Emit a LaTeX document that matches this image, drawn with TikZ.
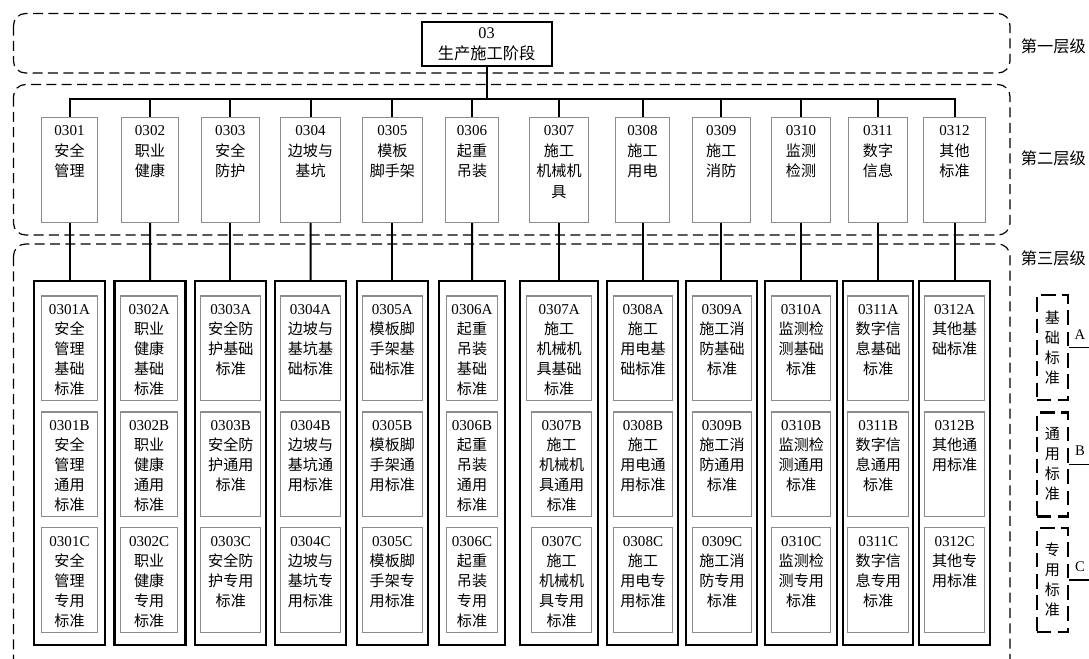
\documentclass[tikz,border=0pt]{standalone}
\usepackage{fontspec}
\setmainfont{Liberation Serif}
\newfontfamily\cjk{Noto Sans CJK SC}
\newfontfamily\latf{Liberation Serif}
\newcommand\lat[1]{{\latf #1}}
\usetikzlibrary{fit}
\newcommand\colgeom[8]{%
  \node[gbox, fit={({#2-#4/2},117.5) ({#2+#4/2},222.5)}] (l2-#1) {};
  \draw[conn] (l2-#1.north) |- (bus);
  \node[colbox, fit={({#2-#3/2},281) ({#2+#3/2},645)}] (c-#1) {};
  \draw[conn] (l2-#1.south) -- (c-#1.north);
  \node[gbox, fit={({#5-#6/2},296) ({#5+#6/2},400.7)}] (a-#1) {};
  \node[gbox, fit={({#7-#8/2},412) ({#7+#8/2},516.7)}] (b-#1) {};
  \node[gbox, fit={({#7-#8/2},527.7) ({#7+#8/2},632.3)}] (cc-#1) {};
}
\newcommand\coltext[5]{%
  \node[txttwo, anchor=north] (l2t-#1) at ([yshift=-6.4pt]l2-#1.north) {#2};
  \node[txt, anchor=north] (at-#1) at ([yshift=-6.7pt]a-#1.north) {#3};
  \node[txt, anchor=north] (bt-#1) at ([yshift=-6.7pt]b-#1.north) {#4};
  \node[txt, anchor=north] (ct-#1) at ([yshift=-6.7pt]cc-#1.north) {#5};
}
\begin{document}
\begin{tikzpicture}[x=0.75pt,y=-0.75pt,
  region/.style={draw=black, line width=0.9pt, dash pattern=on 7.5pt off 4pt, rounded corners=9pt},
  conn/.style={draw=black, line width=1.5pt},
  topbox/.style={draw=black, line width=1.6pt, inner sep=0pt},
  gbox/.style={draw=black!45, line width=0.8pt, inner sep=0pt},
  colbox/.style={draw=black, line width=1.6pt, inner sep=0pt},
  txt/.style={align=center, inner sep=0pt, font=\cjk\fontsize{11.3pt}{15pt}\selectfont},
  txttwo/.style={align=center, inner sep=0pt, font=\cjk\fontsize{11.3pt}{15.4pt}\selectfont},
  lvl/.style={anchor=west, inner sep=0pt, font=\cjk\fontsize{12.2pt}{14pt}\selectfont},
  legbox/.style={draw=black, line width=1.6pt, dash pattern=on 11pt off 5pt, inner sep=0pt},
  legtxt/.style={align=center, inner sep=0pt, font=\cjk\fontsize{11.3pt}{15pt}\selectfont},
  legline/.style={draw=black, line width=1.2pt},
  leglab/.style={inner sep=0pt, font=\fontsize{11pt}{13pt}\selectfont},
]
\useasboundingbox (0,0) rectangle (1089,658);

% regions
\draw[region] (13.5,13.5) rectangle (1010,73);
\draw[region] (13.5,84.5) rectangle (1010,235);
\begin{scope}
  \clip (0,0) rectangle (1089,658);
  \draw[region] (13.5,244) rectangle (1010,680);
\end{scope}

% level labels
\node[lvl] (L1) at (1020.5,46) {第一层级};
\node[lvl] (L2) at (1020.5,158) {第二层级};
\node[lvl] (L3) at (1020.5,258) {第三层级};

% top node
\node[topbox, fit={(421.6,22) (551.6,66)}] (top) {};
\node[txt, font=\cjk\fontsize{12.2pt}{16pt}\selectfont] (toptxt) at (top.center) {\lat{03}\\生产施工阶段};
\coordinate (bus) at (486.6,98.5);
\draw[conn] (top.south) -- (bus);

\colgeom{01}{69.5}{71}{55.5}{69.5}{55.6}{69.5}{55.6}
\colgeom{02}{150}{71}{57.3}{149.2}{57}{149.2}{57}
\colgeom{03}{230.3}{70.7}{58.3}{230.8}{59.7}{230.8}{59.7}
\colgeom{04}{310.5}{70.4}{60}{310.5}{60.4}{310.5}{60.4}
\colgeom{05}{392.4}{71.3}{60}{392.3}{60}{392.3}{60}
\colgeom{06}{472}{66}{53.8}{472}{50.6}{472}{50.6}
\colgeom{07}{559}{78.3}{59.8}{559.2}{65}{561.7}{60}
\colgeom{08}{642.5}{70.4}{53.2}{643}{59.4}{643}{59.4}
\colgeom{09}{721.3}{70.7}{58}{722}{59.4}{722}{59.4}
\colgeom{10}{801}{71.7}{59.1}{801.3}{59.3}{801.3}{59.3}
\colgeom{11}{878}{70.6}{58.7}{878.3}{61.3}{878.3}{61.3}
\colgeom{12}{954.5}{70.7}{61.9}{954.6}{59.3}{954.6}{59.3}

\coltext{01}{\lat{0301}\\安全\\管理}{\lat{0301A}\\安全\\管理\\基础\\标准}{\lat{0301B}\\安全\\管理\\通用\\标准}{\lat{0301C}\\安全\\管理\\专用\\标准}
\coltext{02}{\lat{0302}\\职业\\健康}{\lat{0302A}\\职业\\健康\\基础\\标准}{\lat{0302B}\\职业\\健康\\通用\\标准}{\lat{0302C}\\职业\\健康\\专用\\标准}
\coltext{03}{\lat{0303}\\安全\\防护}{\lat{0303A}\\安全防\\护基础\\标准}{\lat{0303B}\\安全防\\护通用\\标准}{\lat{0303C}\\安全防\\护专用\\标准}
\coltext{04}{\lat{0304}\\边坡与\\基坑}{\lat{0304A}\\边坡与\\基坑基\\础标准}{\lat{0304B}\\边坡与\\基坑通\\用标准}{\lat{0304C}\\边坡与\\基坑专\\用标准}
\coltext{05}{\lat{0305}\\模板\\脚手架}{\lat{0305A}\\模板脚\\手架基\\础标准}{\lat{0305B}\\模板脚\\手架通\\用标准}{\lat{0305C}\\模板脚\\手架专\\用标准}
\coltext{06}{\lat{0306}\\起重\\吊装}{\lat{0306A}\\起重\\吊装\\基础\\标准}{\lat{0306B}\\起重\\吊装\\通用\\标准}{\lat{0306C}\\起重\\吊装\\专用\\标准}
\coltext{07}{\lat{0307}\\施工\\机械机\\具}{\lat{0307A}\\施工\\机械机\\具基础\\标准}{\lat{0307B}\\施工\\机械机\\具通用\\标准}{\lat{0307C}\\施工\\机械机\\具专用\\标准}
\coltext{08}{\lat{0308}\\施工\\用电}{\lat{0308A}\\施工\\用电基\\础标准}{\lat{0308B}\\施工\\用电通\\用标准}{\lat{0308C}\\施工\\用电专\\用标准}
\coltext{09}{\lat{0309}\\施工\\消防}{\lat{0309A}\\施工消\\防基础\\标准}{\lat{0309B}\\施工消\\防通用\\标准}{\lat{0309C}\\施工消\\防专用\\标准}
\coltext{10}{\lat{0310}\\监测\\检测}{\lat{0310A}\\监测检\\测基础\\标准}{\lat{0310B}\\监测检\\测通用\\标准}{\lat{0310C}\\监测检\\测专用\\标准}
\coltext{11}{\lat{0311}\\数字\\信息}{\lat{0311A}\\数字信\\息基础\\标准}{\lat{0311B}\\数字信\\息通用\\标准}{\lat{0311C}\\数字信\\息专用\\标准}
\coltext{12}{\lat{0312}\\其他\\标准}{\lat{0312A}\\其他基\\础标准}{\lat{0312B}\\其他通\\用标准}{\lat{0312C}\\其他专\\用标准}

% legend
\node[legbox, fit={(1036.7,295) (1068.3,400)}] (ga) {};
\node[legtxt] (gat) at (ga.center) {基\\础\\标\\准};
\coordinate (ea) at (1089,347.5);
\draw[legline] (ga.east) -- (ea);
\node[leglab] (la) at (1080,335) {A};

\node[legbox, fit={(1036.7,412.5) (1068.3,516.5)}] (gb) {};
\node[legtxt] (gbt) at (gb.center) {通\\用\\标\\准};
\coordinate (eb) at (1089,464.5);
\draw[legline] (gb.east) -- (eb);
\node[leglab] (lb) at (1080,451) {B};

\node[legbox, fit={(1036.7,528) (1068.3,632)}] (gc) {};
\node[legtxt] (gct) at (gc.center) {专\\用\\标\\准};
\coordinate (ec) at (1089,580);
\draw[legline] (gc.east) -- (ec);
\node[leglab] (lc) at (1080,567) {C};
\end{tikzpicture}
\end{document}
